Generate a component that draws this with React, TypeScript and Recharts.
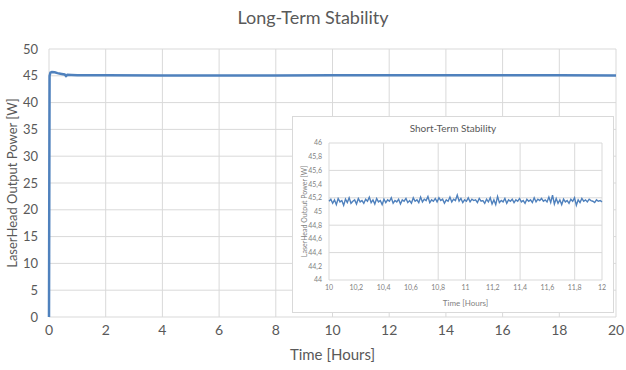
import React from 'react';
import { LineChart, Line, XAxis, YAxis, CartesianGrid } from 'recharts';

// Long-term run (hours vs. watts)
const longHours = [0, 0.02, 0.05, 0.1, 0.2, 0.3, 0.4, 0.5, 0.55, 0.6, 0.65, 0.8, 1, 2, 4, 6, 8, 10, 12, 14, 16, 18, 20];
const longPower = [0, 45.0, 45.6, 45.7, 45.65, 45.5, 45.4, 45.3, 45.25, 44.95, 45.2, 45.15, 45.1, 45.08, 45.05, 45.05, 45.07, 45.1, 45.1, 45.12, 45.1, 45.08, 45.05];
const longTicksX = [0, 2, 4, 6, 8, 10, 12, 14, 16, 18, 20];
const longTicksY = [0, 5, 10, 15, 20, 25, 30, 35, 40, 45, 50];

// Short-term window 10h..12h, evenly sampled
const shortStart = 10;
const shortEnd = 12;
const shortPower = [
  45.15, 45.18, 45.12, 45.17, 45.1, 45.19, 45.14, 45.16, 45.09, 45.18, 45.13, 45.2, 45.12, 45.15, 45.17, 45.11, 45.19, 45.14, 45.16, 45.12,
  45.18, 45.15, 45.21, 45.13, 45.17, 45.11, 45.19, 45.14, 45.16, 45.1, 45.18, 45.13, 45.17, 45.15, 45.2, 45.12, 45.16, 45.14, 45.18, 45.11,
  45.17, 45.15, 45.19, 45.13, 45.16, 45.12, 45.2, 45.15, 45.17, 45.13, 45.21, 45.14, 45.18, 45.16, 45.22, 45.13, 45.17, 45.15, 45.19, 45.14,
  45.2, 45.16, 45.18, 45.12, 45.17, 45.15, 45.21, 45.14, 45.18, 45.16, 45.24, 45.15, 45.19, 45.13, 45.17, 45.15, 45.2, 45.14, 45.18, 45.16,
  45.17, 45.13, 45.19, 45.15, 45.16, 45.12, 45.18, 45.14, 45.2, 45.11, 45.17, 45.1, 45.22, 45.13, 45.16, 45.14, 45.19, 45.12, 45.17, 45.15,
  45.18, 45.13, 45.17, 45.15, 45.19, 45.14, 45.16, 45.12, 45.18, 45.15, 45.17, 45.13, 45.2, 45.14, 45.18, 45.16, 45.19, 45.15, 45.17, 45.14,
  45.21, 45.13, 45.24, 45.11, 45.19, 45.12, 45.17, 45.1, 45.18, 45.14, 45.16, 45.12, 45.18, 45.15, 45.2, 45.09, 45.17, 45.13, 45.19, 45.15,
  45.17, 45.14, 45.18, 45.16, 45.15, 45.13, 45.17, 45.15, 45.16, 45.14,
];
const shortTicksX = [10, 10.2, 10.4, 10.6, 10.8, 11, 11.2, 11.4, 11.6, 11.8, 12];
const shortTicksY = [44, 44.2, 44.4, 44.6, 44.8, 45, 45.2, 45.4, 45.6, 45.8, 46];

const FONT = 'Lato, "Open Sans", sans-serif';
const LINE = '#4f81bd';
const GRID = '#d9d9d9';
const TEXT = '#595959';

const comma = (v: number) => String(Number(v.toFixed(1))).replace('.', ',');

export default function App() {
  const longData = longHours.map((h, i) => ({ h, p: longPower[i] }));
  const step = (shortEnd - shortStart) / (shortPower.length - 1);
  const shortData = shortPower.map((p, i) => ({ h: shortStart + i * step, p }));

  return (
    <div style={{ position: 'absolute', left: 0, top: 0, width: 626, height: 370, background: '#fff', fontFamily: FONT }}>
      <div style={{ position: 'absolute', left: 0, top: 6, width: 626, textAlign: 'center', fontSize: 18, color: TEXT }}>
        Long-Term Stability
      </div>
      <LineChart width={626} height={370} data={longData} margin={{ top: 49, right: 10, bottom: 0, left: 0 }}>
        <CartesianGrid stroke={GRID} />
        <XAxis
          dataKey="h"
          type="number"
          domain={[0, 20]}
          ticks={longTicksX}
          axisLine={false}
          tickLine={false}
          height={53}
          tick={{ fill: TEXT, fontSize: 14, fontFamily: FONT }}
          label={{ value: 'Time [Hours]', position: 'insideBottom', offset: 10, fill: TEXT, fontSize: 15, fontFamily: FONT }}
        />
        <YAxis
          type="number"
          domain={[0, 50]}
          ticks={longTicksY}
          axisLine={false}
          tickLine={false}
          tickMargin={5}
          width={49}
          tick={{ fill: TEXT, fontSize: 13, fontFamily: FONT }}
          label={{
            value: 'LaserHead Output Power [W]',
            angle: -90,
            position: 'insideLeft',
            offset: 12,
            fill: TEXT,
            fontSize: 13,
            fontFamily: FONT,
            style: { textAnchor: 'middle' },
          }}
        />
        <Line dataKey="p" type="linear" stroke={LINE} strokeWidth={2.5} dot={false} isAnimationActive={false} />
      </LineChart>

      <div
        style={{
          position: 'absolute',
          left: 292,
          top: 116,
          width: 320,
          height: 195,
          background: '#fff',
          border: `1px solid ${GRID}`,
        }}
      >
        <div style={{ position: 'absolute', left: 0, top: 5, width: 320, textAlign: 'center', fontSize: 10, color: TEXT }}>
          Short-Term Stability
        </div>
        <LineChart width={320} height={195} data={shortData} margin={{ top: 26, right: 11, bottom: 0, left: 0 }}>
          <CartesianGrid stroke={GRID} />
          <XAxis
            dataKey="h"
            type="number"
            domain={[10, 12]}
            ticks={shortTicksX}
            tickFormatter={comma}
            axisLine={false}
            tickLine={false}
            tickSize={3}
            tickMargin={2}
            height={32}
            tick={{ fill: '#7f7f7f', fontSize: 7, fontFamily: FONT }}
            label={{ value: 'Time [Hours]', position: 'insideBottom', offset: 6, fill: '#7f7f7f', fontSize: 8, fontFamily: FONT }}
          />
          <YAxis
            type="number"
            domain={[44, 46]}
            ticks={shortTicksY}
            tickFormatter={comma}
            axisLine={false}
            tickLine={false}
            tickSize={3}
            tickMargin={4}
            width={36}
            tick={{ fill: '#7f7f7f', fontSize: 7, fontFamily: FONT }}
            label={{
              value: 'LaserHead Output Power [W]',
              angle: -90,
              position: 'insideLeft',
              offset: 12,
              fill: '#7f7f7f',
              fontSize: 7,
              fontFamily: FONT,
              style: { textAnchor: 'middle' },
            }}
          />
          <Line dataKey="p" type="linear" stroke={LINE} strokeWidth={1.4} dot={false} isAnimationActive={false} />
        </LineChart>
      </div>
    </div>
  );
}
